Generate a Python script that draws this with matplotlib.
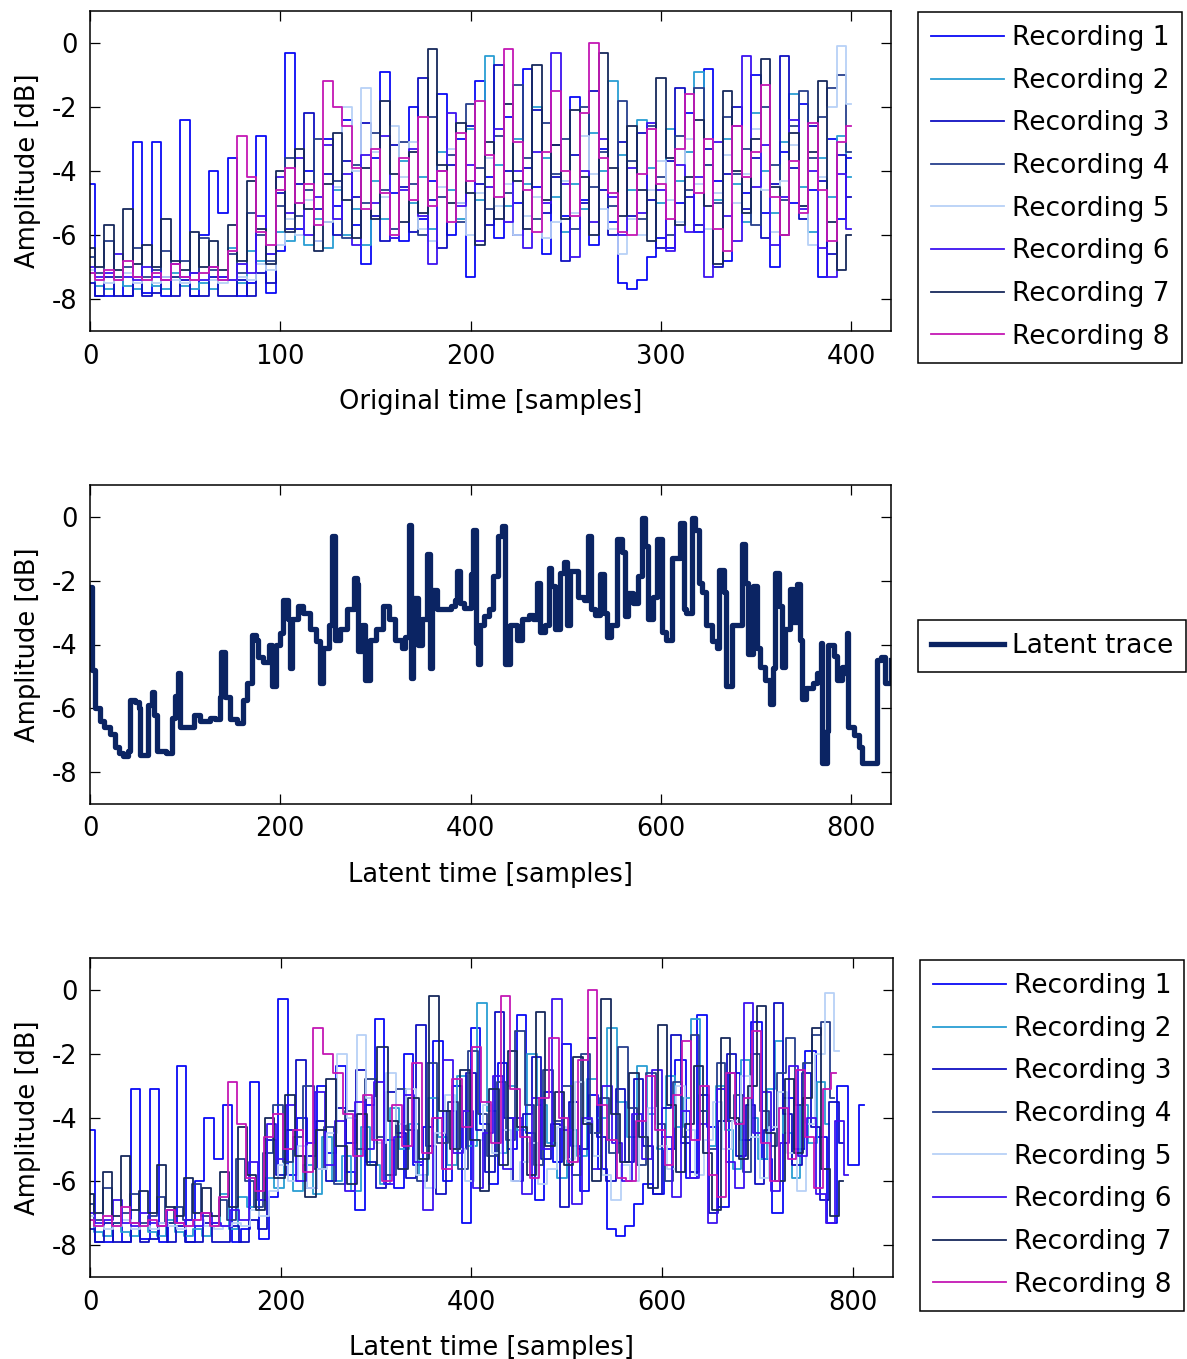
import numpy as np
import matplotlib
matplotlib.use('Agg')
import matplotlib.pyplot as plt

plt.rcParams['font.family'] = ['DejaVu Sans']
plt.rcParams['font.size'] = 18.5
plt.rcParams['axes.unicode_minus'] = False

# original sample grid (every 5 samples, 0..400)
t_orig = np.arange(0, 405, 5)

rec1 = [-4.4, -7.9, -7.9, -7.3, -7.9, -3.1, -7.8, -3.1, -7.9, -7.3, -2.4, -7.9, -6.0, -4.0, -5.3, -3.6, -7.9, -7.5, -2.9, -7.8,
        -6.5, -0.3, -5.8, -4.0, -6.2, -3.0, -5.1, -2.4, -5.7, -6.9, -3.6, -0.9, -4.7, -6.2, -2.0, -5.5, -4.3, -1.6, -6.0, -3.0,
        -7.3, -1.2, -4.2, -6.1, -2.3, -5.0, -0.8, -4.5, -6.6, -3.2, -5.4, -1.7, -4.9, -6.3, -3.3, -5.6, -7.5, -7.7, -7.4, -6.7,
        -6.1, -6.4, -5.0, -2.2, -5.9, -0.8, -4.3, -6.8, -2.6, -4.7, -1.0, -5.3, -7.0, -3.4, -5.0, -1.9, -4.6, -7.3, -3.0, -5.5, -3.6]
rec2 = [-7.2, -7.6, -7.7, -7.3, -7.6, -7.7, -7.4, -7.6, -7.7, -7.2, -7.6, -7.7, -7.5, -7.7, -7.4, -6.4, -7.5, -6.5, -6.8, -6.6,
        -5.9, -6.2, -5.0, -6.3, -5.5, -6.4, -4.6, -6.0, -5.2, -6.3, -4.3, -5.5, -6.1, -3.7, -5.0, -4.2, -5.8, -3.4, -4.6, -5.5,
        -2.7, -4.9, -0.4, -3.8, -5.1, -3.0, -4.4, -2.0, -3.6, -4.8, -5.9, -4.4, -5.2, -2.8, -4.0, -1.2, -3.5, -4.6, -2.4, -3.9,
        -5.0, -2.7, -4.3, -3.4, -0.9, -3.8, -4.9, -3.0, -4.4, -5.6, -2.2, -4.0, -5.3, -3.1, -1.6, -4.5, -5.9, -3.6, -4.8, -2.9, -4.2]
rec3 = [-7.5, -7.9, -7.3, -7.9, -7.9, -7.3, -7.9, -7.8, -7.3, -7.9, -7.4, -7.9, -7.9, -7.3, -7.9, -7.9, -7.4, -7.9, -7.2, -7.5,
        -4.7, -5.8, -4.4, -2.2, -5.2, -4.1, -6.0, -3.7, -4.8, -2.5, -5.4, -6.2, -3.2, -4.5, -5.9, -1.1, -4.9, -6.4, -3.8, -5.0,
        -2.6, -4.4, -5.7, -0.7, -4.0, -6.0, -3.9, -2.1, -5.3, -4.2, -6.8, -3.5, -5.0, -1.5, -4.6, -6.0, -3.1, -5.4, -2.8, -4.9,
        -6.4, -3.7, -1.4, -4.8, -5.7, -3.3, -7.0, -4.1, -2.0, -5.2, -3.6, -6.1, -4.4, -0.4, -3.9, -5.5, -2.6, -4.3, -6.6, -3.5, -4.8]
rec4 = [-6.7, -7.2, -6.2, -7.3, -7.0, -6.4, -7.3, -7.1, -6.5, -7.3, -6.8, -7.2, -6.1, -7.1, -7.3, -6.6, -7.2, -5.3, -6.0, -6.8,
        -5.1, -3.6, -5.4, -4.6, -3.0, -5.6, -4.3, -6.1, -3.8, -5.0, -2.8, -4.6, -5.8, -3.1, -4.4, -6.0, -2.3, -4.8, -3.5, -5.6,
        -1.9, -3.9, -5.2, -2.9, -4.7, -1.3, -3.6, -5.5, -2.5, -4.1, -3.0, -5.8, -2.0, -4.5, -3.4, -5.1, -1.8, -3.7, -5.5, -2.6,
        -4.2, -6.0, -2.9, -4.6, -1.4, -3.8, -5.0, -2.3, -4.1, -3.3, -5.7, -2.0, -3.8, -4.9, -2.6, -1.5, -3.6, -2.3, -1.4, -1.0, -3.4]
rec5 = [-7.1, -7.4, -7.5, -7.4, -7.2, -7.5, -7.4, -7.5, -7.3, -7.4, -7.5, -7.4, -7.2, -7.4, -7.5, -7.4, -7.3, -7.4, -6.9, -7.1,
        -6.3, -5.5, -6.0, -4.9, -6.2, -5.6, -4.5, -2.0, -4.0, -1.4, -3.4, -4.8, -2.6, -4.2, -3.1, -5.8, -6.2, -4.5, -3.3, -5.0,
        -6.0, -4.7, -3.6, -5.1, -4.4, -6.0, -5.4, -4.8, -6.1, -5.6, -4.3, -5.3, -2.9, -4.1, -5.2, -5.8, -6.6, -5.5, -6.0, -4.6,
        -3.7, -4.9, -5.6, -3.0, -4.4, -5.8, -4.7, -3.5, -5.0, -4.1, -2.7, -4.6, -5.9, -4.3, -3.2, -5.1, -6.3, -4.2, -2.0, -0.1, -1.9]
rec6 = [-7.0, -7.3, -7.2, -6.6, -7.3, -7.4, -7.0, -7.3, -7.4, -6.9, -7.3, -7.2, -7.4, -7.0, -7.3, -7.4, -6.9, -7.2, -5.4, -6.6,
        -4.2, -5.3, -3.6, -6.0, -4.8, -3.2, -5.5, -4.1, -6.3, -3.5, -5.0, -2.9, -6.1, -4.6, -3.3, -5.4, -6.9, -4.0, -2.2, -5.1,
        -3.8, -6.2, -4.5, -2.7, -5.6, -4.0, -6.4, -3.4, -5.0, -0.3, -4.4, -6.7, -4.0, -5.6, -3.0, -4.8, -6.0, -3.9, -5.3, -2.5,
        -4.6, -6.5, -3.8, -5.9, -4.2, -7.3, -3.1, -5.4, -6.2, -0.4, -4.5, -3.2, -6.3, -4.8, -2.4, -5.2, -4.0, -6.4, -7.3, -4.1, -5.8]
rec7 = [-6.4, -7.0, -5.7, -7.1, -5.2, -6.9, -6.3, -7.0, -5.5, -6.8, -7.1, -5.9, -7.0, -6.2, -7.1, -5.7, -6.8, -4.3, -5.8, -6.9,
        -4.0, -5.9, -3.3, -5.2, -6.5, -4.4, -2.8, -4.9, -6.1, -3.9, -5.5, -1.8, -4.1, -5.6, -3.4, -5.3, -0.2, -3.8, -5.0, -2.5,
        -4.7, -6.3, -3.1, -5.5, -1.9, -4.3, -5.8, -0.7, -4.9, -3.2, -5.5, -2.1, -4.2, -6.0, -0.3, -3.9, -5.4, -2.6, -4.6, -6.2,
        -1.1, -3.6, -5.7, -4.2, -2.4, -5.1, -6.9, -1.5, -4.0, -5.3, -3.0, -0.5, -4.5, -6.0, -2.8, -5.1, -3.4, -1.2, -5.6, -7.1, -6.0]
rec8 = [-7.2, -7.4, -7.1, -7.4, -6.8, -7.3, -7.4, -7.2, -7.4, -6.9, -7.3, -7.4, -7.2, -7.0, -7.4, -6.5, -2.9, -4.2, -5.9, -6.3,
        -4.6, -3.9, -5.0, -4.4, -5.7, -1.2, -2.0, -2.6, -3.9, -5.2, -3.3, -4.7, -6.0, -3.6, -4.9, -2.3, -5.1, -4.0, -5.6, -2.8,
        -4.3, -1.8, -3.5, -4.8, -0.2, -3.1, -4.6, -5.9, -3.4, -1.5, -4.0, -5.4, -2.2, 0.0, -3.6, -4.7, -5.9, -6.0, -4.1, -2.7,
        -4.4, -5.5, -3.3, -1.6, -4.7, -3.0, -5.8, -6.5, -2.6, -4.2, -3.4, -1.3, -4.8, -6.0, -3.7, -5.3, -2.5, -4.6, -6.2, -3.1, -2.6]

recordings = [rec1, rec2, rec3, rec4, rec5, rec6, rec7, rec8]
colors = ['#0A0AF6', '#2A9ED3', '#1010C2', '#263F8C', '#B8D1F7', '#3D12F0', '#17295C', '#C418B4']
labels = ['Recording %d' % (i + 1) for i in range(8)]

# alignment of each recording onto latent time (knots at original 0,100,200,300,400)
warp_orig = [0, 100, 200, 300, 400]
warp_latent = [[0, 192, 395, 585, 812],
               [0, 188, 390, 600, 775],
               [0, 190, 400, 595, 790],
               [0, 186, 402, 598, 780],
               [0, 192, 398, 590, 785],
               [0, 190, 396, 605, 795],
               [0, 188, 404, 600, 790],
               [0, 187, 395, 598, 782]]

# latent trace
latent_time = [0, 2, 5, 10, 15, 21, 26, 30, 35, 40, 42, 47, 51, 53, 60, 61, 65, 67, 70, 80, 86, 89, 92, 95, 102, 109, 116, 126,
               131, 137, 138, 142, 147, 154, 161, 165, 170, 174, 177, 182, 188, 191, 195, 200, 203, 208, 210, 212, 219, 224,
               231, 238, 242, 245, 251, 254, 258, 263, 270, 277, 281, 282, 286, 289, 294, 301, 308, 314, 321, 328, 331, 335,
               337, 340, 345, 349, 354, 357, 359, 365, 372, 379, 384, 386, 389, 393, 400, 403, 406, 408, 410, 414, 419, 424,
               429, 433, 436, 442, 449, 454, 461, 466, 470, 473, 478, 482, 485, 489, 494, 498, 501, 505, 510, 513, 519, 524,
               527, 531, 536, 540, 543, 548, 554, 559, 562, 566, 571, 576, 580, 583, 587, 592, 596, 601, 606, 612, 617, 620,
               624, 627, 633, 636, 640, 643, 648, 654, 659, 661, 666, 669, 675, 680, 685, 689, 692, 697, 701, 704, 710, 715,
               718, 720, 724, 727, 731, 736, 739, 743, 746, 748, 753, 760, 764, 768, 769, 775, 776, 782, 785, 790, 794, 796,
               797, 803, 808, 811, 825, 827, 832, 836, 842]
latent_amp = [-2.2, -4.8, -6.0, -6.4, -6.6, -6.8, -7.2, -7.4, -7.5, -7.35, -5.75, -5.8, -6.0, -7.45, -7.45, -5.9, -5.5, -6.2,
              -7.35, -7.4, -6.3, -5.6, -4.9, -6.6, -6.6, -6.2, -6.4, -6.3, -6.35, -5.65, -4.24, -5.65, -6.35, -6.45, -5.75,
              -5.2, -3.7, -3.85, -4.4, -4.55, -4.0, -5.3, -4.0, -3.65, -2.6, -3.2, -4.75, -3.2, -2.8, -3.0, -3.5, -3.9, -5.2,
              -4.1, -3.4, -0.6, -3.85, -3.5, -2.9, -1.9, -2.1, -4.2, -3.4, -5.1, -3.85, -3.5, -2.8, -3.2, -3.85, -4.1, -3.75,
              -0.25, -5.05, -2.55, -4.0, -3.2, -1.15, -4.75, -2.3, -2.9, -2.9, -2.8, -2.6, -1.7, -2.7, -2.85, -1.8, -0.4,
              -3.95, -4.6, -3.4, -3.1, -2.9, -1.86, -0.6, -0.3, -4.6, -3.4, -3.85, -3.2, -3.06, -3.2, -2.07, -3.6, -3.4, -1.6,
              -2.17, -3.5, -1.75, -1.4, -3.4, -1.7, -1.7, -2.5, -2.6, -0.6, -2.9, -3.06, -1.8, -3.0, -3.75, -3.4, -0.7, -1.1,
              -3.1, -2.4, -2.7, -1.86, -0.02, -0.9, -3.2, -2.5, -0.7, -3.6, -3.85, -1.3, -1.3, -0.2, -2.9, -3.0, -0.05, -0.4,
              -2.07, -2.35, -3.4, -3.9, -4.1, -1.67, -2.35, -5.3, -3.4, -3.4, -0.85, -2.07, -4.3, -2.17, -4.1, -4.7, -5.1,
              -5.85, -4.75, -1.75, -2.8, -4.7, -3.5, -2.26, -3.3, -2.1, -3.85, -5.7, -5.35, -5.2, -4.9, -3.95, -7.7, -6.7,
              -4.0, -4.35, -5.1, -4.7, -4.9, -3.65, -6.6, -6.85, -7.2, -7.7, -7.7, -4.5, -4.4, -5.2, -4.5]

W, H = 1187, 1359
fig = plt.figure(figsize=(W / 100, H / 100), dpi=100)


def fx(px):
    return px / W


def fy(py):
    return 1 - py / H


def style_axes(ax, xlim, xticks, xlabel):
    ax.set_xlim(xlim)
    ax.set_ylim(-9, 1)
    ax.set_xticks(xticks)
    ax.set_yticks([0, -2, -4, -6, -8])
    ax.tick_params(direction='in', top=True, right=True, length=7, width=0.9, pad=9)
    for s in ax.spines.values():
        s.set_linewidth(1.1)
    ax.set_xlabel(xlabel, labelpad=14)
    ax.set_ylabel('Amplitude [dB]', labelpad=8)


def legend_at(ax, px, py):
    leg = ax.legend(loc='upper left', bbox_to_anchor=(fx(px), fy(py)), bbox_transform=fig.transFigure,
                    borderaxespad=0, fancybox=False, edgecolor='black', framealpha=1, fontsize=19,
                    handlelength=2.75, handletextpad=0.3, labelspacing=0.63, borderpad=0.5)
    leg.get_frame().set_linewidth(1.1)
    return leg


# top: recordings on original time
ax1 = fig.add_axes([fx(90), fy(331), fx(801), 320 / H])
for r, c, lab in zip(recordings, colors, labels):
    ax1.plot(t_orig, r, color=c, lw=1.3, drawstyle='steps-mid', label=lab)
style_axes(ax1, (0, 421), [0, 100, 200, 300, 400], 'Original time [samples]')
legend_at(ax1, 918, 12)

# middle: latent trace
ax2 = fig.add_axes([fx(90), fy(804), fx(801), 319 / H])
ax2.plot(latent_time, latent_amp, color='#0B2463', lw=3.8, drawstyle='steps-post', label='Latent trace')
style_axes(ax2, (0, 842), [0, 200, 400, 600, 800], 'Latent time [samples]')
legend_at(ax2, 918, 620)

# bottom: recordings aligned to latent time
ax3 = fig.add_axes([fx(90), fy(1277), fx(803), 319 / H])
for r, c, lab, wl in zip(recordings, colors, labels, warp_latent):
    t_lat = np.interp(t_orig, warp_orig, wl)
    ax3.plot(t_lat, r, color=c, lw=1.3, drawstyle='steps-mid', label=lab)
style_axes(ax3, (0, 842), [0, 200, 400, 600, 800], 'Latent time [samples]')
legend_at(ax3, 920, 960)

fig.savefig('out.png', dpi=100)
